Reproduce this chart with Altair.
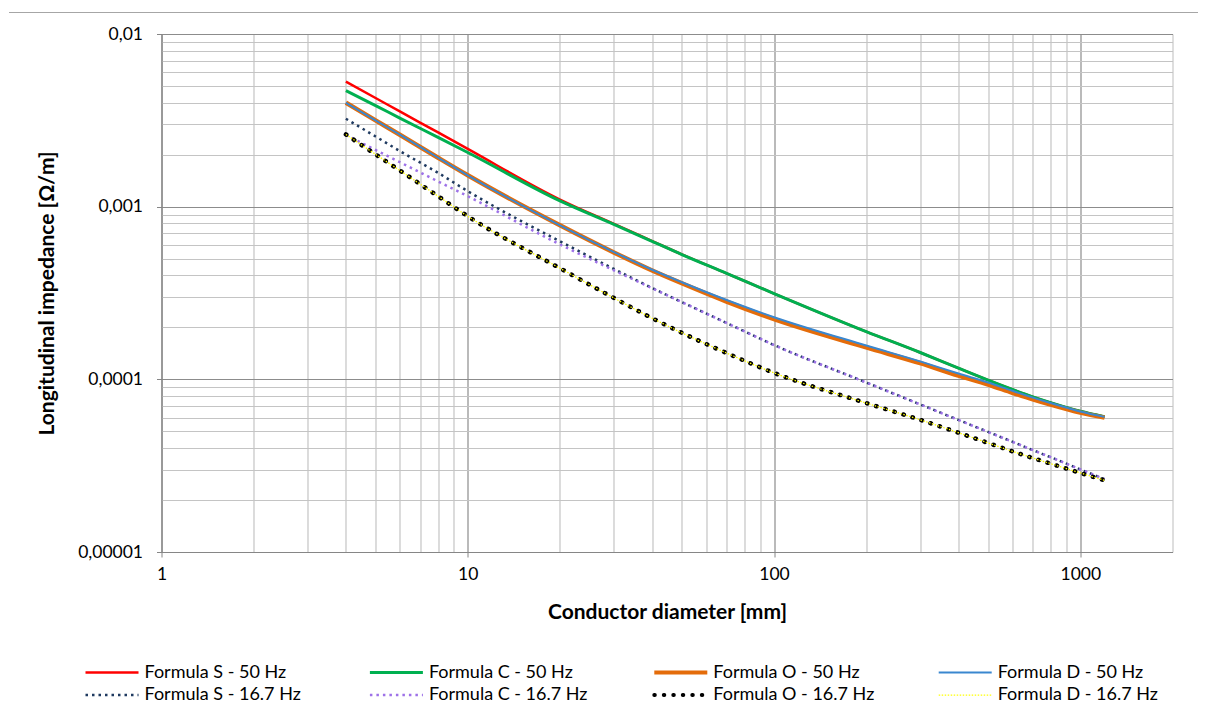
import altair as alt
import pandas as pd

# ---------------- data ----------------
diameters = [4, 5, 6, 8, 10, 20, 30, 40, 50, 70, 100, 200, 300, 400, 500, 600, 700, 800, 1000, 1200]

s_50 = [0.0053, 0.00426, 0.00356, 0.00269, 0.00216, 0.0011, 0.000795, 0.000632, 0.000529, 0.000411,
        0.000314, 0.000189, 0.000143, 0.000116, 0.0000989, 0.0000874, 0.0000792, 0.0000733, 0.0000653, 0.0000607]
c_50 = [0.0047, 0.00385, 0.00326, 0.00252, 0.00206, 0.00108, 0.00079, 0.00063, 0.000528, 0.000411,
        0.000314, 0.000189, 0.000143, 0.000116, 0.0000989, 0.0000874, 0.0000792, 0.0000733, 0.0000653, 0.0000607]
o_50 = [0.004, 0.00316, 0.00261, 0.00192, 0.00152, 0.00078, 0.000543, 0.000427, 0.00036, 0.000282,
        0.000223, 0.000153, 0.000124, 0.000105, 0.0000933, 0.0000836, 0.0000765, 0.0000713, 0.0000641, 0.00006]
d_50 = [0.004, 0.00316, 0.00261, 0.00192, 0.00152, 0.00078, 0.000546, 0.000431, 0.000365, 0.000288,
        0.000229, 0.000157, 0.000127, 0.000108, 0.0000958, 0.0000858, 0.0000784, 0.0000729, 0.0000652, 0.0000606]
s_167 = [0.00323, 0.00255, 0.0021, 0.00157, 0.00123, 0.00063, 0.000436, 0.000338, 0.00028, 0.000212,
         0.000158, 0.0000959, 0.0000716, 0.0000582, 0.0000496, 0.0000435, 0.0000389, 0.0000354, 0.0000301, 0.0000264]
c_167 = [0.0026, 0.00213, 0.00181, 0.0014, 0.00115, 0.000604, 0.000428, 0.000337, 0.00028, 0.000212,
         0.000158, 0.0000959, 0.0000716, 0.0000582, 0.0000496, 0.0000435, 0.0000389, 0.0000354, 0.0000301, 0.0000264]
o_167 = [0.00262, 0.00201, 0.00162, 0.00115, 0.00088, 0.00044, 0.000296, 0.000226, 0.000186, 0.000142,
         0.000109, 0.0000729, 0.0000583, 0.0000491, 0.0000428, 0.0000383, 0.000035, 0.0000325, 0.0000287, 0.000026]
d_167 = [0.00262, 0.00201, 0.00162, 0.00115, 0.00088, 0.00044, 0.000296, 0.000226, 0.000186, 0.000142,
         0.000109, 0.0000729, 0.0000583, 0.0000491, 0.0000428, 0.0000383, 0.000035, 0.0000325, 0.0000287, 0.000026]

series_names = ["Formula S - 50 Hz", "Formula C - 50 Hz", "Formula O - 50 Hz", "Formula D - 50 Hz",
                "Formula S - 16.7 Hz", "Formula C - 16.7 Hz", "Formula O - 16.7 Hz", "Formula D - 16.7 Hz"]
series_values = [s_50, c_50, o_50, d_50, s_167, c_167, o_167, d_167]

x_major = [1, 10, 100, 1000]
y_major = [0.01, 0.001, 0.0001, 0.00001]

# ---------------- styles ----------------
colors = ["#FF0000", "#00B050", "#E46C0A", "#3A87CF", "#1F3A60", "#9E72E8", "#000000", "#FFFF00"]
widths = [2.5, 3, 4.5, 2, 2.5, 2.5, 4.5, 1.25]
dashes = [None, None, None, None, [2.5, 4], [2.5, 4], [0.5, 9], [1.5, 1.5]]
caps = ["butt", "butt", "butt", "butt", "butt", "butt", "round", "butt"]

FONT = "Lato"
LABEL_SIZE = 17.5
LEGEND_SIZE = 18
TITLE_SIZE = 21
W, H = 1011, 518
PAD_L, PAD_T = 153.5, 26
PAD_R = 1192 - W - PAD_L
PAD_B = 698 - H - PAD_T

x_ticks = [k * 10 ** e for e in range(0, 3) for k in range(1, 10)] + [1000]
y_ticks = [round(k * 10.0 ** e, 12) for e in (-5, -4, -3) for k in range(1, 10)] + [0.01]

x_test = "indexof([" + ",".join(str(v) for v in x_major) + "], datum.value) >= 0"
y_test = "indexof([" + ",".join(repr(v) for v in y_major) + "], datum.value) >= 0"

MAJOR_GRID, MINOR_GRID = "#8C8C8C", "#C4C4C4"

X = alt.X(
    "d:Q",
    scale=alt.Scale(type="log", domain=[1, 2000], nice=False),
    axis=alt.Axis(
        values=x_ticks,
        title="Conductor diameter [mm]",
        labelExpr=x_test + " ? toString(datum.value) : ''",
        labelFont=FONT, labelFontSize=LABEL_SIZE, labelColor="#000000", labelPadding=8,
        labelFlush=False, labelOverlap=False,
        tickSize=5, tickColor="#868686",
        tickOpacity={"condition": {"test": x_test, "value": 1}, "value": 0},
        domainColor="#868686",
        grid=True,
        gridColor={"condition": {"test": x_test, "value": MAJOR_GRID}, "value": MINOR_GRID},
        gridWidth=1.2,
        titleFont=FONT, titleFontSize=TITLE_SIZE, titleFontWeight="bold", titleColor="#000000",
        titleX=W / 2, titleY=60, titleBaseline="middle", titleAnchor="middle",
    ),
)
Y = alt.Y(
    "z:Q",
    scale=alt.Scale(type="log", domain=[0.00001, 0.01], nice=False),
    axis=alt.Axis(
        values=y_ticks,
        title="Longitudinal impedance [Ω/m]",
        labelExpr=y_test + " ? replace(toString(datum.value), '.', ',') : ''",
        labelFont=FONT, labelFontSize=LABEL_SIZE, labelColor="#000000", labelPadding=14,
        labelFlush=False, labelOverlap=False,
        tickSize=5, tickColor="#868686",
        tickOpacity={"condition": {"test": y_test, "value": 1}, "value": 0},
        domainColor="#868686",
        grid=True,
        gridColor={"condition": {"test": y_test, "value": MAJOR_GRID}, "value": MINOR_GRID},
        gridWidth=1.2,
        titleFont=FONT, titleFontSize=TITLE_SIZE, titleFontWeight="bold", titleColor="#000000",
        titleX=-114, titleY=H / 2, titleAngle=-90, titleBaseline="middle", titleAnchor="middle",
    ),
)

one = pd.DataFrame({"k": [0]})
layers = []

# top edge of the outer chart frame (kept inside the drawing)
layers.append(
    alt.Chart(one).mark_rule(color="#A6A6A6", strokeWidth=1).encode(
        x=alt.value(-PAD_L + 1), x2=alt.value(W + PAD_R - 2), y=alt.value(-PAD_T + 4.5)
    )
)

# series lines
for name, vals, col, w, dash, cap in zip(series_names, series_values, colors, widths, dashes, caps):
    df = pd.DataFrame({"d": diameters, "z": vals, "series": name})
    kw = dict(color=col, strokeWidth=w, strokeCap=cap, interpolate="monotone", clip=True)
    if dash is not None:
        kw["strokeDash"] = dash
    layers.append(alt.Chart(df).mark_line(**kw).encode(x=X, y=Y))

# manual legend: 4 columns x 2 rows
col_x0, col_step, sym_len, text_gap = 85.5, 284.4, 53, 59
row_y = [672.5, 695]
for i, (name, col, w, dash, cap) in enumerate(zip(series_names, colors, widths, dashes, caps)):
    c, r = i % 4, i // 4
    px = col_x0 + c * col_step - 8 - PAD_L
    py = row_y[r] - 8 - PAD_T
    kw = dict(color=col, strokeWidth=min(w, 4), strokeCap=cap)
    if dash is not None:
        kw["strokeDash"] = dash
    layers.append(
        alt.Chart(one).mark_rule(**kw).encode(
            x=alt.value(px), x2=alt.value(px + sym_len), y=alt.value(py)
        )
    )
    layers.append(
        alt.Chart(one).mark_text(
            text=name, font=FONT, fontSize=LEGEND_SIZE, color="#000000", align="left", baseline="middle"
        ).encode(x=alt.value(px + text_gap), y=alt.value(py))
    )

chart = (
    alt.layer(*layers)
    .properties(
        width=W, height=H,
        padding={"left": PAD_L, "top": PAD_T, "right": PAD_R, "bottom": PAD_B},
        autosize=alt.AutoSizeParams(type="none"),
        background="#FFFFFF",
    )
    .configure_view(stroke="#BDBDBD", strokeWidth=1)
)

chart.save("out.html", embed_options={"renderer": "svg", "actions": False})
